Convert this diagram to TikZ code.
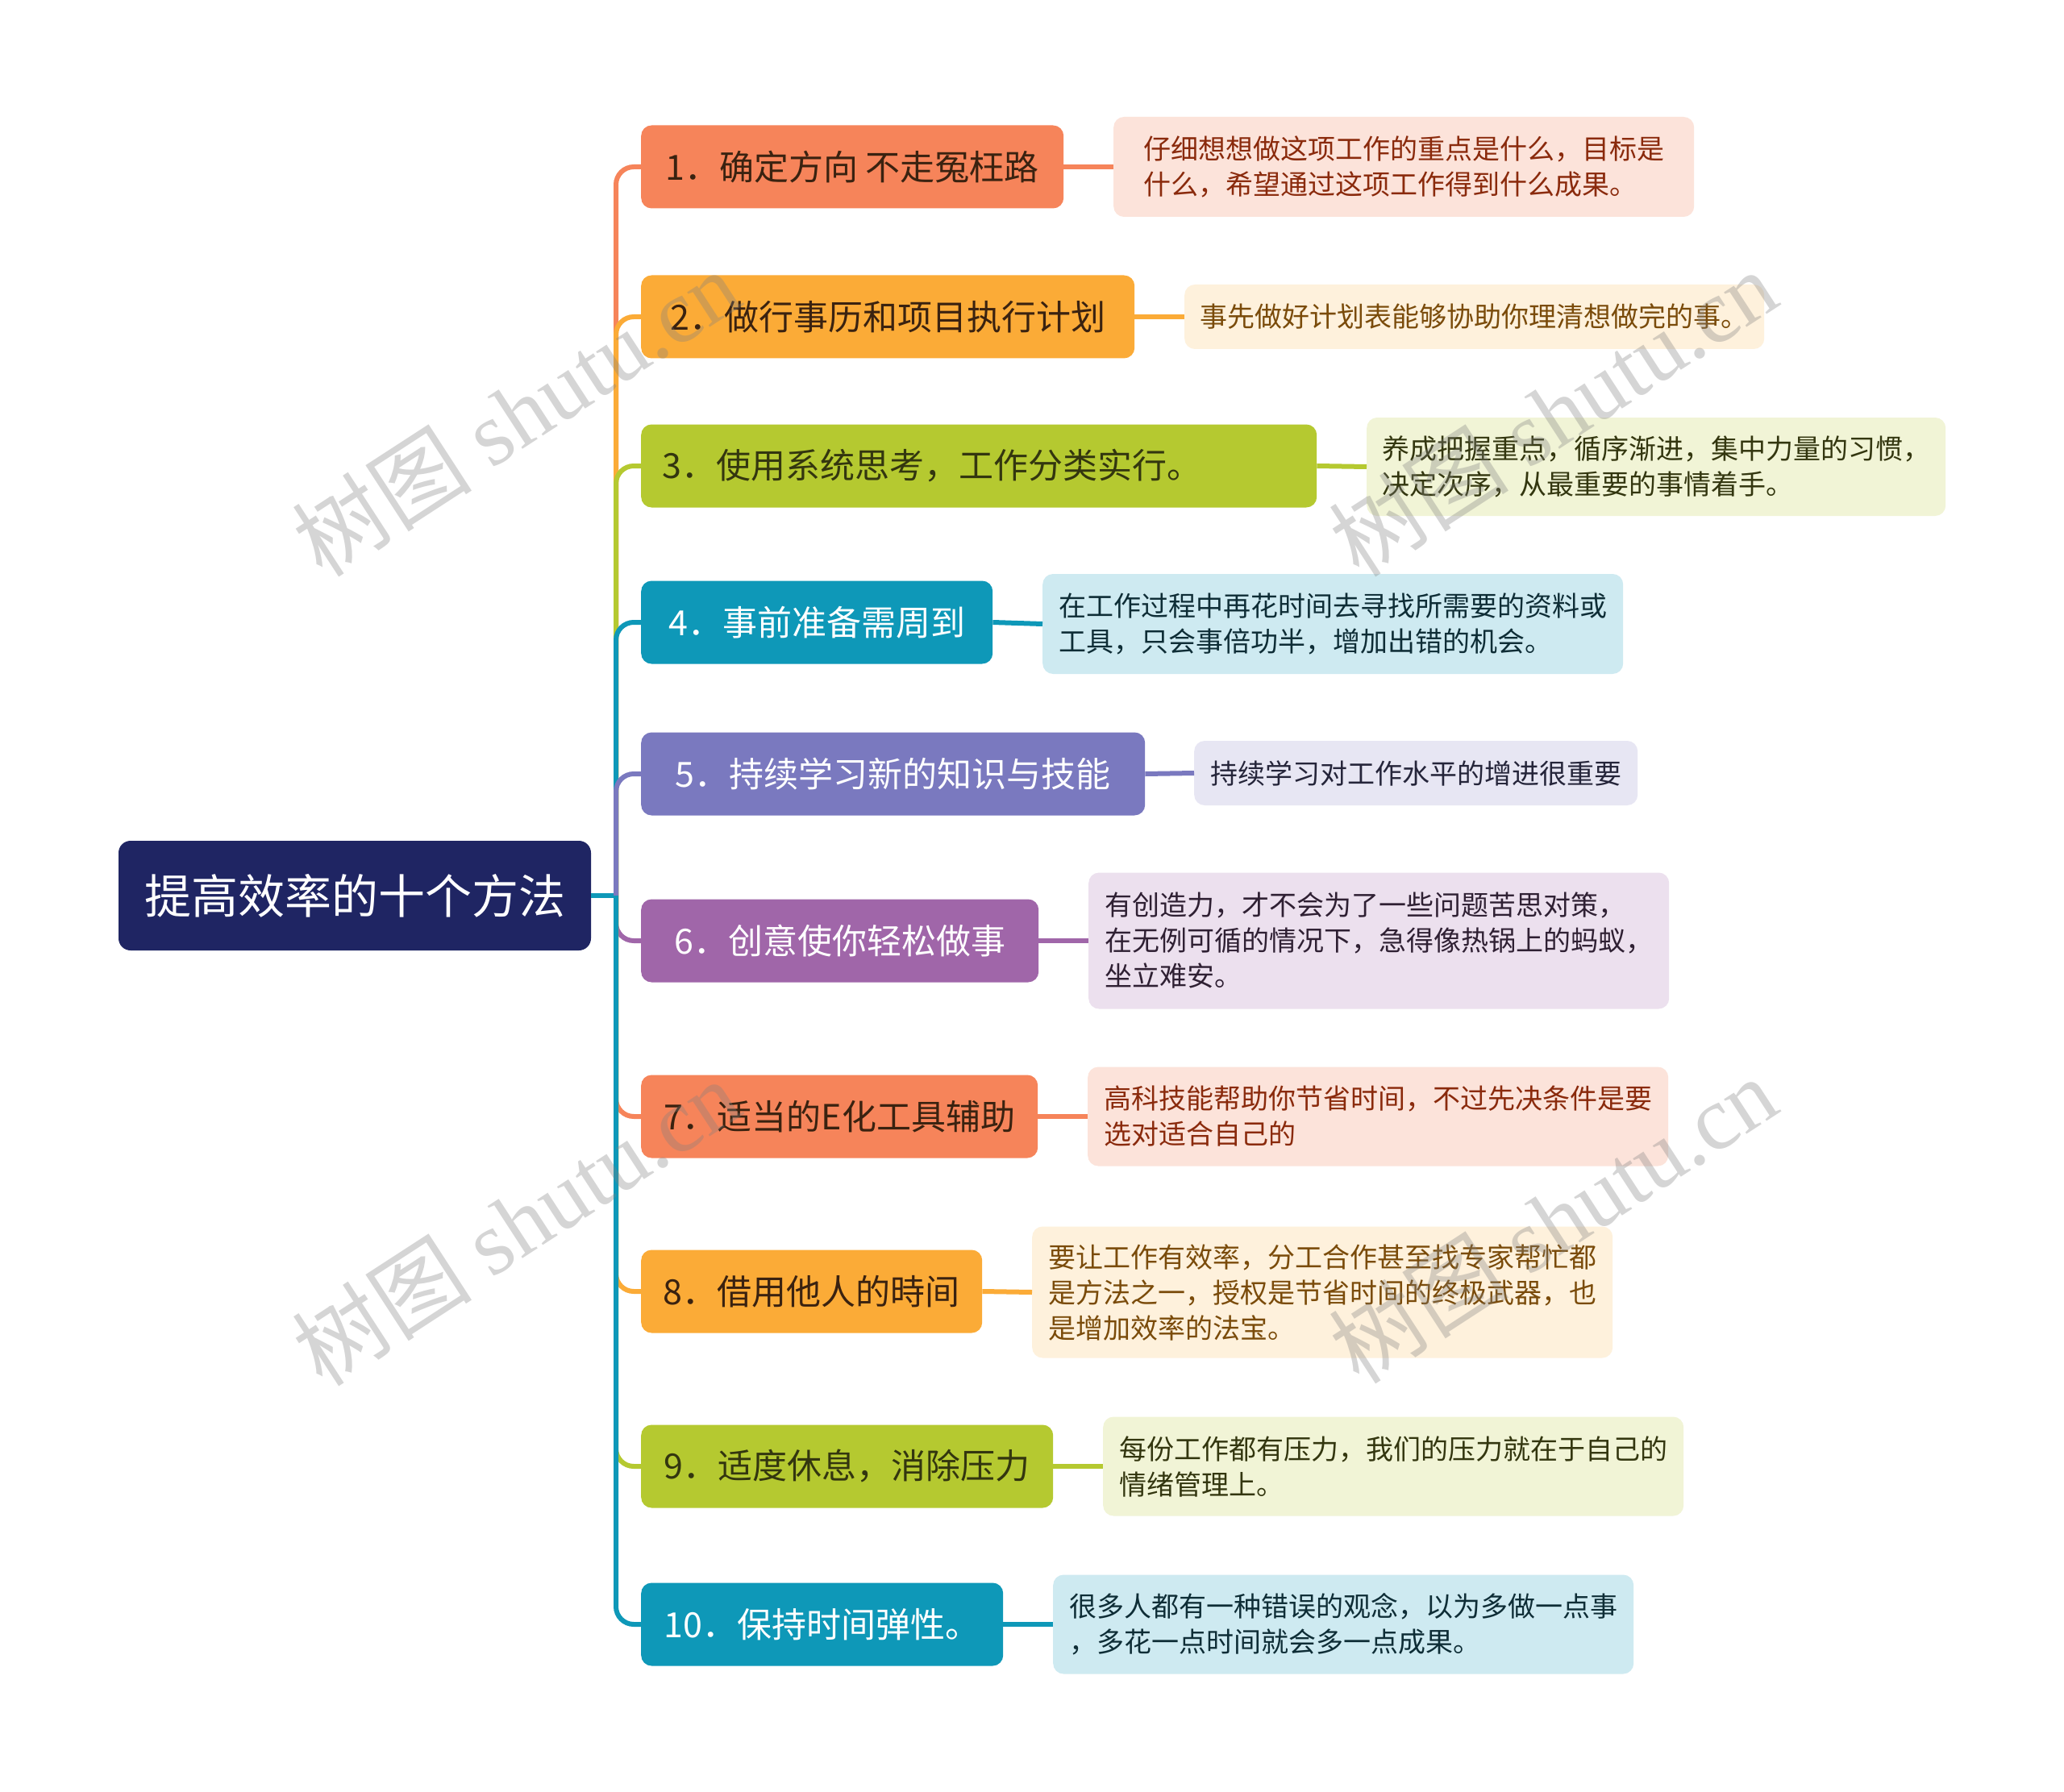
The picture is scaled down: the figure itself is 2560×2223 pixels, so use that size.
\documentclass[tikz,border=0pt]{standalone}
\usepackage{fontspec}
\setmainfont{Noto Sans CJK SC}
\newfontfamily\cjk{Noto Sans CJK SC}
\newfontfamily\wmlatin{Liberation Serif}
\definecolor{rootc}{HTML}{1F2563}
\definecolor{cA}{HTML}{F6845A}
\definecolor{cB}{HTML}{FBAB37}
\definecolor{cC}{HTML}{B5C930}
\definecolor{cD}{HTML}{0E98B8}
\definecolor{cE}{HTML}{7A79BF}
\definecolor{cF}{HTML}{A066A9}
\definecolor{fA}{HTML}{FCE3DA}
\definecolor{fB}{HTML}{FEF1DC}
\definecolor{fC}{HTML}{F1F4D6}
\definecolor{fD}{HTML}{CEEAF1}
\definecolor{fE}{HTML}{E7E6F3}
\definecolor{fF}{HTML}{ECE0EE}
\definecolor{tA}{HTML}{8A2A0C}
\definecolor{tB}{HTML}{7A4B0A}
\definecolor{tC}{HTML}{33360F}
\definecolor{tD}{HTML}{0E2D36}
\definecolor{tE}{HTML}{25253A}
\definecolor{tF}{HTML}{2F2033}
\definecolor{bdark}{HTML}{3A2210}
\tikzset{
  rootbox/.style={fill=rootc, text=white, rounded corners=15pt, minimum width=586pt, minimum height=136pt, inner sep=0pt, font=\fontsize{58}{64}\selectfont},
  branchbox/.style={rounded corners=13pt, minimum height=103pt, inner sep=0pt, font=\fontsize{43}{50}\selectfont, anchor=west},
  detailbox/.style={rounded corners=13pt, inner sep=0pt, align=left, font=\fontsize{34}{44}\selectfont, anchor=west},
  link/.style={line width=6pt, rounded corners=22pt},
  wm/.style={text=gray, opacity=0.33, rotate=33, font=\fontsize{112}{112}\selectfont}
}
\begin{document}
\begin{tikzpicture}[x=1pt,y=-1pt]
\useasboundingbox (0,0) rectangle (2560,2223);
\fill[white] (0,0) rectangle (2560,2223);

% root
\node[rootbox] (root) at (440,1111) {提高效率的十个方法};
\coordinate (J) at (764,1111);

% branches
\node[branchbox, fill=cA, text=bdark, minimum width=524pt] (b1) at (795,207) {1．确定方向 不走冤枉路};
\node[branchbox, fill=cB, text=bdark, minimum width=612pt] (b2) at (795,393) {2．做行事历和项目执行计划};
\node[branchbox, fill=cC, text=tC, text width=786pt, inner xsep=26pt, align=left] (b3) at (795,578) {3．使用系统思考，工作分类实行。};
\node[branchbox, fill=cD, text=white, minimum width=436pt] (b4) at (795,772) {4．事前准备需周到};
\node[branchbox, fill=cE, text=white, minimum width=625pt] (b5) at (795,960) {5．持续学习新的知识与技能};
\node[branchbox, fill=cF, text=white, minimum width=493pt] (b6) at (795,1167) {6．创意使你轻松做事};
\node[branchbox, fill=cA, text=bdark, minimum width=492pt] (b7) at (795,1385) {7．适当的E化工具辅助};
\node[branchbox, fill=cB, text=bdark, minimum width=423pt] (b8) at (795,1602) {8．借用他人的時间};
\node[branchbox, fill=cC, text=tC, minimum width=511pt] (b9) at (795,1819) {9．适度休息，消除压力};
\node[branchbox, fill=cD, text=white, minimum width=449pt] (b10) at (795,2015) {10．保持时间弹性。};

% details
\node[detailbox, fill=fA, text=tA, minimum width=720pt, minimum height=124pt] (d1) at (1381,207) {仔细想想做这项工作的重点是什么，目标是\\什么，希望通过这项工作得到什么成果。};
\node[detailbox, fill=fB, text=tB, minimum width=719pt, minimum height=80pt] (d2) at (1469,393) {事先做好计划表能够协助你理清想做完的事。};
\node[detailbox, fill=fC, text=tC, minimum width=718pt, minimum height=122pt] (d3) at (1695,579) {养成把握重点，循序渐进，集中力量的习惯，\\决定次序，从最重要的事情着手。};
\node[detailbox, fill=fD, text=tD, minimum width=720pt, minimum height=124pt] (d4) at (1293,774) {在工作过程中再花时间去寻找所需要的资料或\\工具，只会事倍功半，增加出错的机会。};
\node[detailbox, fill=fE, text=tE, minimum width=550pt, minimum height=80pt] (d5) at (1481,959) {持续学习对工作水平的增进很重要};
\node[detailbox, fill=fF, text=tF, minimum width=720pt, minimum height=169pt] (d6) at (1350,1167) {有创造力，才不会为了一些问题苦思对策，\\在无例可循的情况下，急得像热锅上的蚂蚁，\\坐立难安。};
\node[detailbox, fill=fA, text=tA, minimum width=720pt, minimum height=123pt] (d7) at (1349,1385) {高科技能帮助你节省时间，不过先决条件是要\\选对适合自己的};
\node[detailbox, fill=fB, text=tB, minimum width=720pt, minimum height=163pt] (d8) at (1280,1603) {要让工作有效率，分工合作甚至找专家帮忙都\\是方法之一，授权是节省时间的终极武器，也\\是增加效率的法宝。};
\node[detailbox, fill=fC, text=tC, minimum width=720pt, minimum height=123pt] (d9) at (1368,1819) {每份工作都有压力，我们的压力就在于自己的\\情绪管理上。};
\node[detailbox, fill=fD, text=tD, minimum width=720pt, minimum height=123pt] (d10) at (1306,2015) {很多人都有一种错误的观念，以为多做一点事\\，多花一点时间就会多一点成果。};

% connectors root -> branches
\draw[link, cD] (root.east) -- (J);
\draw[link, cA] (J) |- (b1.west);
\draw[link, cB] (J) |- (b2.west);
\draw[link, cC] (J) |- (b3.west);
\draw[link, cD] (J) |- (b4.west);
\draw[link, cE] (J) |- (b5.west);
\draw[link, cF] (J) |- (b6.west);
\draw[link, cA] (J) |- (b7.west);
\draw[link, cB] (J) |- (b8.west);
\draw[link, cC] (J) |- (b9.west);
\draw[link, cD] (J) |- (b10.west);

% connectors branch -> detail
\draw[link, cA] (b1.east) -- (d1.west);
\draw[link, cB] (b2.east) -- (d2.west);
\draw[link, cC] (b3.east) -- (d3.west);
\draw[link, cD] (b4.east) -- (d4.west);
\draw[link, cE] (b5.east) -- (d5.west);
\draw[link, cF] (b6.east) -- (d6.west);
\draw[link, cA] (b7.east) -- (d7.west);
\draw[link, cB] (b8.east) -- (d8.west);
\draw[link, cC] (b9.east) -- (d9.west);
\draw[link, cD] (b10.east) -- (d10.west);

% watermarks
\node[wm] (w1) at (640,512) {{\cjk 树图} {\wmlatin shutu.cn}};
\node[wm] (w2) at (1926,512) {{\cjk 树图} {\wmlatin shutu.cn}};
\node[wm] (w3) at (640,1516) {{\cjk 树图} {\wmlatin shutu.cn}};
\node[wm] (w4) at (1926,1513) {{\cjk 树图} {\wmlatin shutu.cn}};
\end{tikzpicture}
\end{document}
